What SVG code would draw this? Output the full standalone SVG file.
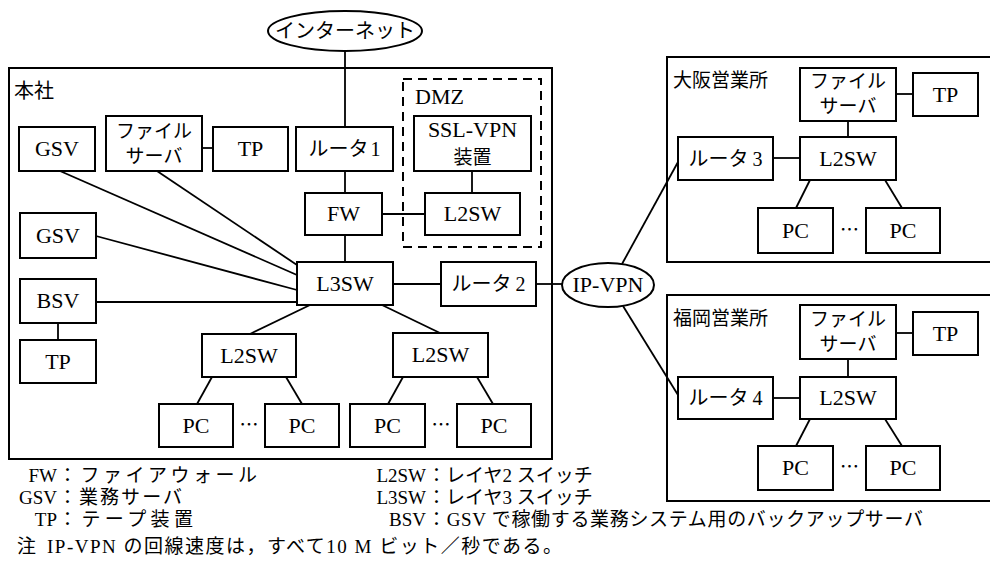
<svg xmlns="http://www.w3.org/2000/svg" width="990" height="575" viewBox="0 0 990 575">
<style>
.b{fill:#fff;stroke:#000;stroke-width:2}
.area{fill:none;stroke:#000;stroke-width:2}
.dmz{fill:none;stroke:#000;stroke-width:2;stroke-dasharray:9 6}
.c{stroke:#000;stroke-width:1.8;fill:none}
.t{font-family:"Liberation Serif","Noto Sans CJK JP",serif;font-size:22px;text-anchor:middle;fill:#000}
.r{font-family:"Liberation Serif","Noto Sans CJK JP",serif;font-size:20px;text-anchor:middle;fill:#000}
.s{font-family:"Liberation Serif","Noto Sans CJK JP",serif;font-size:22px;text-anchor:start;fill:#000}
.j{font-family:"Noto Sans CJK JP","Liberation Sans",sans-serif;font-size:19px;text-anchor:middle;fill:#000}
.l{font-family:"Noto Sans CJK JP","Liberation Sans",sans-serif;font-size:19px;fill:#000}
.g{font-family:"Liberation Serif","Noto Sans CJK JP",serif;font-size:19px;fill:#000}
.ge{font-family:"Liberation Serif","Noto Sans CJK JP",serif;font-size:19px;fill:#000;text-anchor:end}
</style>
<rect x="0" y="0" width="990" height="575" fill="#fff"/>

<g id="areas">
  <rect id="honsha" class="area" x="9" y="68" width="543" height="391"/>
  <text class="l" x="14" y="98" style="font-size:20px">本社</text>
  <rect id="dmz" class="dmz" x="403" y="79" width="138" height="168"/>
  <text class="s" x="415" y="104">DMZ</text>
  <rect id="osaka" class="area" x="667" y="57" width="340" height="205"/>
  <text class="l" x="673" y="87">大阪営業所</text>
  <rect id="fukuoka" class="area" x="667" y="295" width="340" height="206"/>
  <text class="l" x="673" y="325">福岡営業所</text>
</g>

<g id="connectors">
  <line class="c" x1="345" y1="51" x2="345" y2="127"/>
  <line class="c" x1="345" y1="171" x2="345" y2="193"/>
  <line class="c" x1="345" y1="235" x2="345" y2="262"/>
  <line class="c" x1="382" y1="214" x2="425" y2="214"/>
  <line class="c" x1="472" y1="171" x2="472" y2="193"/>
  <line class="c" x1="202" y1="148" x2="213" y2="148"/>
  <line class="c" x1="157" y1="171" x2="297" y2="265"/>
  <line class="c" x1="60" y1="171" x2="297" y2="275"/>
  <line class="c" x1="96" y1="236" x2="297" y2="290"/>
  <line class="c" x1="96" y1="302" x2="297" y2="302"/>
  <line class="c" x1="58" y1="323" x2="58" y2="340"/>
  <line class="c" x1="393" y1="284" x2="441" y2="284"/>
  <line class="c" x1="536" y1="284" x2="562" y2="284"/>
  <line class="c" x1="310" y1="305" x2="250" y2="334"/>
  <line class="c" x1="382" y1="305" x2="440" y2="333"/>
  <line class="c" x1="212" y1="377" x2="197" y2="404"/>
  <line class="c" x1="286" y1="377" x2="302" y2="404"/>
  <line class="c" x1="403" y1="377" x2="388" y2="404"/>
  <line class="c" x1="477" y1="377" x2="493" y2="404"/>
  <line class="c" x1="622" y1="264" x2="678" y2="162"/>
  <line class="c" x1="623" y1="306" x2="678" y2="395"/>
  <line class="c" x1="896" y1="94" x2="913" y2="94"/>
  <line class="c" x1="848" y1="121" x2="848" y2="137"/>
  <line class="c" x1="773" y1="158" x2="800" y2="158"/>
  <line class="c" x1="810" y1="180" x2="796" y2="208"/>
  <line class="c" x1="885" y1="180" x2="902" y2="208"/>
  <line class="c" x1="896" y1="333" x2="913" y2="333"/>
  <line class="c" x1="848" y1="359" x2="848" y2="377"/>
  <line class="c" x1="773" y1="398" x2="800" y2="398"/>
  <line class="c" x1="810" y1="419" x2="796" y2="446"/>
  <line class="c" x1="885" y1="419" x2="902" y2="446"/>
</g>

<g id="internet"><ellipse class="b" cx="345" cy="31" rx="77" ry="20"/><text class="j" x="345" y="38" style="font-size:20px">インターネット</text></g>
<g id="gsv1"><rect class="b" x="19" y="127" width="76" height="44"/><text class="t" x="57" y="156">GSV</text></g>
<g id="fileserver-hq"><rect class="b" x="106" y="116" width="96" height="55"/><text class="j" x="154" y="138">ファイル</text><text class="j" x="154" y="163">サーバ</text></g>
<g id="tp-hq"><rect class="b" x="213" y="127" width="75" height="44"/><text class="t" x="250.5" y="156">TP</text></g>
<g id="router1"><rect class="b" x="296" y="127" width="97" height="44"/><text class="r" x="344.5" y="156">ルータ<tspan dx="2">1</tspan></text></g>
<g id="sslvpn"><rect class="b" x="414" y="116" width="117" height="55"/><text class="t" x="472.5" y="137">SSL-VPN</text><text class="j" x="472.5" y="164">装置</text></g>
<g id="fw"><rect class="b" x="305" y="193" width="77" height="42"/><text class="t" x="343.5" y="221">FW</text></g>
<g id="l2sw-dmz"><rect class="b" x="425" y="193" width="95" height="42"/><text class="t" x="472.5" y="221">L2SW</text></g>
<g id="gsv2"><rect class="b" x="20" y="213" width="76" height="45"/><text class="t" x="58" y="243">GSV</text></g>
<g id="bsv"><rect class="b" x="20" y="279" width="76" height="44"/><text class="t" x="58" y="308">BSV</text></g>
<g id="tp-bsv"><rect class="b" x="20" y="340" width="76" height="43"/><text class="t" x="58" y="369">TP</text></g>
<g id="l3sw"><rect class="b" x="297" y="262" width="96" height="43"/><text class="t" x="345" y="291">L3SW</text></g>
<g id="router2"><rect class="b" x="441" y="262" width="95" height="44"/><text class="r" x="488.5" y="291">ルータ<tspan dx="4">2</tspan></text></g>
<g id="ipvpn"><ellipse class="b" cx="608" cy="285" rx="46" ry="22"/><text class="t" x="608" y="292">IP-VPN</text></g>
<g id="l2sw-a"><rect class="b" x="202" y="334" width="94" height="43"/><text class="t" x="249" y="363">L2SW</text></g>
<g id="l2sw-b"><rect class="b" x="393" y="333" width="95" height="44"/><text class="t" x="440.5" y="362">L2SW</text></g>
<g id="pc1"><rect class="b" x="159" y="404" width="74" height="43"/><text class="t" x="196" y="433">PC</text></g>
<g id="pc2"><rect class="b" x="265" y="404" width="74" height="43"/><text class="t" x="302" y="433">PC</text></g>
<text class="j" x="249" y="432">…</text>
<g id="pc3"><rect class="b" x="350" y="404" width="75" height="43"/><text class="t" x="387.5" y="433">PC</text></g>
<g id="pc4"><rect class="b" x="457" y="404" width="74" height="43"/><text class="t" x="494" y="433">PC</text></g>
<text class="j" x="441" y="432">…</text>

<g id="fileserver-osaka"><rect class="b" x="800" y="68" width="96" height="53"/><text class="j" x="848" y="88">ファイル</text><text class="j" x="848" y="113">サーバ</text></g>
<g id="tp-osaka"><rect class="b" x="913" y="73" width="65" height="43"/><text class="t" x="945.5" y="102">TP</text></g>
<g id="router3"><rect class="b" x="678" y="137" width="95" height="43"/><text class="r" x="725.5" y="166">ルータ<tspan dx="4">3</tspan></text></g>
<g id="l2sw-osaka"><rect class="b" x="800" y="137" width="96" height="43"/><text class="t" x="848" y="166">L2SW</text></g>
<g id="pc-osaka1"><rect class="b" x="758" y="208" width="75" height="45"/><text class="t" x="795.5" y="238">PC</text></g>
<g id="pc-osaka2"><rect class="b" x="866" y="208" width="74" height="45"/><text class="t" x="903" y="238">PC</text></g>
<text class="j" x="849.5" y="237">…</text>

<g id="fileserver-fukuoka"><rect class="b" x="800" y="305" width="96" height="54"/><text class="j" x="848" y="326">ファイル</text><text class="j" x="848" y="351">サーバ</text></g>
<g id="tp-fukuoka"><rect class="b" x="913" y="312" width="65" height="43"/><text class="t" x="945.5" y="341">TP</text></g>
<g id="router4"><rect class="b" x="678" y="377" width="95" height="42"/><text class="r" x="725.5" y="405">ルータ<tspan dx="4">4</tspan></text></g>
<g id="l2sw-fukuoka"><rect class="b" x="800" y="377" width="96" height="42"/><text class="t" x="848" y="405">L2SW</text></g>
<g id="pc-fukuoka1"><rect class="b" x="758" y="446" width="75" height="44"/><text class="t" x="795.5" y="475">PC</text></g>
<g id="pc-fukuoka2"><rect class="b" x="866" y="446" width="74" height="44"/><text class="t" x="903" y="475">PC</text></g>
<text class="j" x="849.5" y="474">…</text>

<g id="legend">
  <text class="ge" x="57" y="482">FW</text>
  <text class="g" x="58" y="482" textLength="199" lengthAdjust="spacing">：ファイアウォール</text>
  <text class="ge" x="57" y="504">GSV</text>
  <text class="g" x="58" y="504" textLength="124" lengthAdjust="spacing">：業務サーバ</text>
  <text class="ge" x="57" y="526">TP</text>
  <text class="g" x="58" y="526" textLength="135" lengthAdjust="spacing">：テープ装置</text>
  <text class="ge" x="426" y="482">L2SW</text>
  <text class="g" x="427" y="482">：レイヤ2 スイッチ</text>
  <text class="ge" x="426" y="504">L3SW</text>
  <text class="g" x="427" y="504">：レイヤ3 スイッチ</text>
  <text class="ge" x="426" y="526">BSV</text>
  <text class="g" x="427" y="526" textLength="496" lengthAdjust="spacing">：GSV で稼働する業務システム用のバックアップサーバ</text>
  <text class="g" x="17" y="553">注</text>
  <text class="g" x="47" y="553" textLength="515" lengthAdjust="spacing">IP-VPN の回線速度は，すべて10 M ビット／秒である。</text>
</g>
</svg>
